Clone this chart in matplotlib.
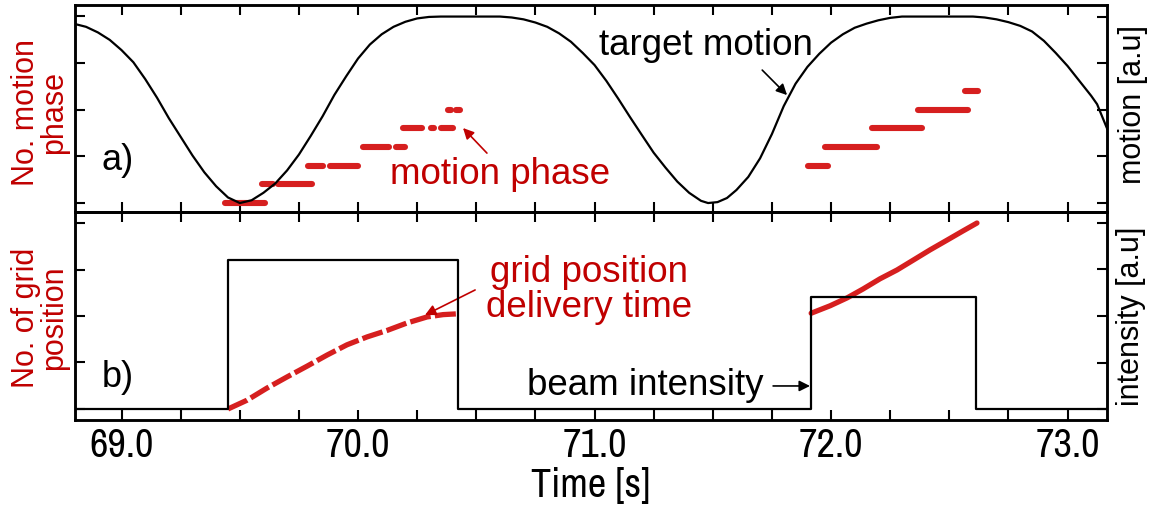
import matplotlib
matplotlib.use("Agg")
import matplotlib.pyplot as plt
from matplotlib.ticker import MultipleLocator

plt.rcParams['font.family'] = ['Liberation Sans', 'DejaVu Sans']
NARROW = ['Archivo Narrow', 'Liberation Sans', 'DejaVu Sans']

RED_TXT = '#c00000'
RED_DAT = '#d61f1f'

# target motion (a.u.)
motion_t = [68.803, 68.85, 68.90, 68.95, 69.00, 69.05, 69.10, 69.15, 69.20, 69.25,
            69.30, 69.35, 69.40, 69.45, 69.50, 69.55, 69.60, 69.65, 69.70, 69.75,
            69.80, 69.85, 69.90, 69.95, 70.00, 70.05, 70.10, 70.15, 70.20, 70.25,
            70.30, 70.35, 70.60, 70.65, 70.70, 70.75, 70.80, 70.85, 70.90, 70.95,
            71.00, 71.05, 71.10, 71.15, 71.20, 71.25, 71.30, 71.35, 71.40, 71.45,
            71.48, 71.52, 71.56, 71.60, 71.65, 71.70, 71.75, 71.80, 71.85, 71.90,
            71.95, 72.00, 72.05, 72.10, 72.15, 72.20, 72.25, 72.30, 72.60, 72.65,
            72.70, 72.75, 72.80, 72.85, 72.90, 72.95, 73.00, 73.05, 73.10, 73.125,
            73.167]
motion_y = [0.960, 0.945, 0.915, 0.875, 0.820, 0.755, 0.665, 0.565, 0.455, 0.355,
            0.255, 0.165, 0.090, 0.030, 0.000, 0.015, 0.055, 0.105, 0.175, 0.260,
            0.360, 0.465, 0.580, 0.680, 0.775, 0.850, 0.905, 0.945, 0.972, 0.990,
            0.998, 1.000, 1.000, 0.995, 0.985, 0.968, 0.945, 0.910, 0.865, 0.805,
            0.740, 0.655, 0.560, 0.461, 0.365, 0.270, 0.190, 0.115, 0.055, 0.012,
            0.000, 0.005, 0.027, 0.070, 0.140, 0.240, 0.370, 0.520, 0.640, 0.730,
            0.800, 0.860, 0.905, 0.940, 0.962, 0.980, 0.993, 1.000, 1.000, 0.995,
            0.985, 0.970, 0.950, 0.920, 0.870, 0.805, 0.735, 0.655, 0.575, 0.530,
            0.400]

# motion phase segments: start, end, phase number
phase_start = [69.438, 69.594, 69.660, 69.790, 69.880, 70.020, 70.160, 70.190, 70.310, 70.350, 70.380, 70.415,
               71.903, 71.975, 72.174, 72.368, 72.567]
phase_end = [69.607, 69.640, 69.805, 69.850, 70.000, 70.130, 70.200, 70.270, 70.320, 70.400, 70.392, 70.430,
             71.988, 72.194, 72.385, 72.579, 72.622]
phase_no = [0, 1, 1, 2, 2, 3, 3, 4, 4, 4, 5, 5,
            2, 3, 4, 5, 6]

# beam intensity (a.u.)
beam_t = [68.80, 69.45, 70.423, 71.914, 72.615, 73.17]
beam_i = [0.0, 0.8, 0.0, 0.6, 0.0, 0.0]

# grid position delivery time
grid1_t = [69.450, 69.531, 69.615, 69.700, 69.784, 69.869, 69.953, 70.038, 70.123, 70.207, 70.292, 70.360, 70.431]
grid1_n = [0.0, 0.19, 0.45, 0.69, 0.92, 1.16, 1.38, 1.55, 1.69, 1.85, 1.98, 2.03, 2.05]
grid2_t = [71.916, 71.996, 72.068, 72.135, 72.207, 72.279, 72.347, 72.418, 72.490, 72.558, 72.617]
grid2_n = [2.06, 2.22, 2.39, 2.58, 2.80, 2.99, 3.20, 3.42, 3.63, 3.83, 4.00]

xtick_vals = [69.0, 70.0, 71.0, 72.0, 73.0]
xtick_labels = ['69.0', '70.0', '71.0', '72.0', '73.0']

fig = plt.figure(figsize=(11.62, 5.05), dpi=100)
ax1 = fig.add_axes([0.0645, 0.5802, 0.8882, 0.4099])
ax2 = fig.add_axes([0.0645, 0.1683, 0.8882, 0.4119], sharex=ax1)
ax1r = ax1.twinx()
ax2r = ax2.twinx()

# panel a
ax1r.plot(motion_t, motion_y, color='black', lw=1.6)
ax1.hlines(phase_no, phase_start, phase_end, colors=RED_DAT, lw=4.4, capstyle='round')
ax1.set_ylim(-0.48, 10.59)
ax1r.set_ylim(-0.048, 1.062)
ax1.set_yticks([0, 2.5, 5, 7.5, 10])
ax1r.set_yticks([0, 0.25, 0.5, 0.75, 1.0])

# panel b
ax2r.plot(beam_t, beam_i, color='black', lw=1.6, drawstyle='steps-post')
ax2.plot(grid1_t, grid1_n, color=RED_DAT, lw=3.8, dashes=(4, 0.8), solid_capstyle='round')
ax2.plot(grid2_t, grid2_n, color=RED_DAT, lw=3.8, solid_capstyle='round')
ax2.set_ylim(-0.237, 4.237)
ax2r.set_ylim(-0.059, 1.059)
ax2.set_yticks([0, 1, 2, 3, 4])
ax2r.set_yticks([0, 0.25, 0.5, 0.75, 1.0])

ax1.set_xlim(68.803, 73.167)
ax2.set_xticks(xtick_vals, labels=xtick_labels, fontsize=29, family=NARROW)
ax2.xaxis.set_minor_locator(MultipleLocator(0.25))

for a in (ax1, ax2, ax1r, ax2r):
    for s in a.spines.values():
        s.set_linewidth(1.8)
    a.tick_params(which='both', direction='in', length=7, width=1.5,
                  top=True, bottom=True, labelleft=False, labelright=False)
ax1.tick_params(labelbottom=False)
ax2.tick_params(axis='x', pad=5)
ax2.set_xlabel('Time [s]', fontsize=29, family=NARROW, labelpad=2)

# axis labels
fig.text(40 / 1162, 1 - 113 / 505, 'No. motion\nphase', color=RED_TXT, fontsize=22,
         rotation=90, ha='center', va='center', multialignment='center', linespacing=0.95)
fig.text(40 / 1162, 1 - 318 / 505, 'No. of grid\nposition', color=RED_TXT, fontsize=22,
         rotation=90, ha='center', va='center', multialignment='center', linespacing=0.95)
fig.text(1133 / 1162, 1 - 105 / 505, 'motion [a.u]', fontsize=22,
         rotation=90, ha='center', va='center')
fig.text(1131 / 1162, 1 - 316 / 505, 'intensity [a.u]', fontsize=22,
         rotation=90, ha='center', va='center')

# annotations
ax1.text(68.985, 2.3, 'a)', fontsize=26, ha='center', va='center')
ax2.text(68.985, 0.67, 'b)', fontsize=26, ha='center', va='center')

ax1r.text(71.472, 0.847, 'target motion', fontsize=26.5, ha='center', va='center')
ax1r.annotate('', xy=(71.814, 0.579), xytext=(71.709, 0.713),
              arrowprops=dict(arrowstyle='-|>', color='black', lw=1.2, mutation_scale=16,
                              shrinkA=0, shrinkB=0))
ax1.text(70.600, 1.5, 'motion phase', fontsize=26.5, color=RED_TXT, ha='center', va='center')
ax1.annotate('', xy=(70.444, 4.01), xytext=(70.545, 2.67),
             arrowprops=dict(arrowstyle='-|>', color=RED_TXT, lw=1.2, mutation_scale=16,
                             shrinkA=0, shrinkB=0))
ax2.text(70.977, 2.56, 'grid position\ndelivery time', fontsize=26.5, color=RED_TXT,
         ha='center', va='center', linespacing=1.0)
ax2.annotate('', xy=(70.283, 2.02), xytext=(70.495, 2.56),
             arrowprops=dict(arrowstyle='-|>', color=RED_TXT, lw=1.2, mutation_scale=16,
                             shrinkA=0, shrinkB=0))
ax2r.text(71.213, 0.124, 'beam intensity', fontsize=26.5, ha='center', va='center')
ax2r.annotate('', xy=(71.911, 0.124), xytext=(71.755, 0.124),
              arrowprops=dict(arrowstyle='-|>', color='black', lw=1.2, mutation_scale=16,
                              shrinkA=0, shrinkB=0))

fig.savefig('out.png', dpi=100)
